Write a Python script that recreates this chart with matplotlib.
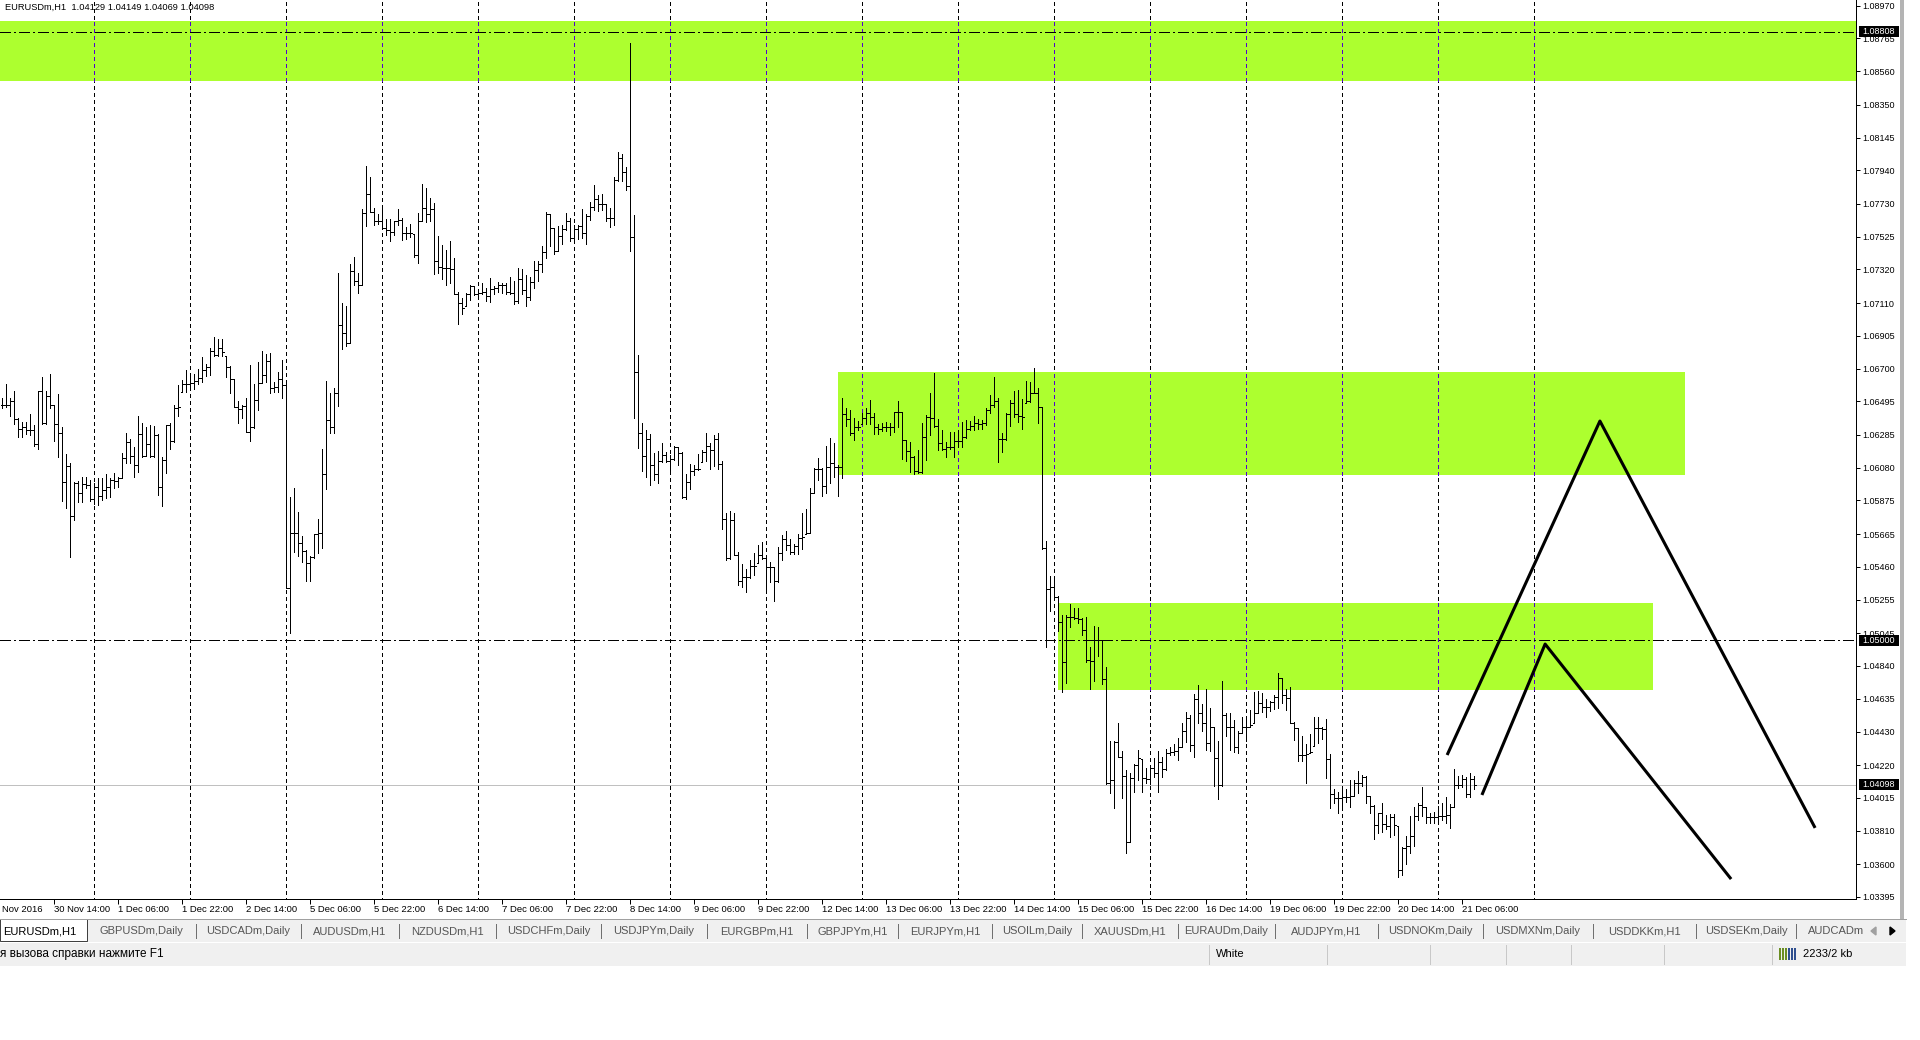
import numpy as np
import matplotlib
matplotlib.use("Agg")
import matplotlib.pyplot as plt
from matplotlib.collections import LineCollection
from matplotlib.patches import Rectangle
import matplotlib.transforms as mtransforms

plt.rcParams['font.family'] = ['Liberation Sans', 'DejaVu Sans']
plt.rcParams['lines.scale_dashes'] = False

# ---------------- data (EURUSDm, H1 bars, prices in points = 1e-5) ----------------
symbol = "EURUSDm,H1"
last_ohlc = [1.04129, 1.04149, 1.04069, 1.04098]

high_pts = [
    106514, 106601, 106514, 106562, 106389, 106368, 106368, 106414, 106345, 106562,
    106645, 106562, 106666, 106472, 106541, 106336, 106165, 106107, 105992, 105999,
    106020, 106024, 106003, 105982, 106013, 106013, 106040, 106013, 106045, 106024,
    106170, 106295, 106257, 106211, 106403, 106357, 106336, 106345, 106341, 106291,
    106145, 106347, 106357, 106472, 106597, 106628, 106691, 106649, 106666, 106695,
    106770, 106726, 106831, 106895, 106883, 106883, 106779, 106716, 106633, 106499,
    106472, 106514, 106722, 106603, 106739, 106810, 106791, 106799, 106618, 106680,
    106753, 106607, 105899, 105951, 105805, 105653, 105565, 105527, 105665, 105757,
    106195, 106624, 106549, 106576, 107300, 107112, 107091, 107354, 107396, 107300,
    107696, 107967,
    107896, 107705, 107669, 107698, 107635, 107633, 107621, 107698, 107645, 107585,
    107602, 107544, 107674, 107855, 107831, 107765, 107736, 107530, 107472, 107441,
    107496, 107389, 107178, 107142, 107171, 107226, 107219, 107197, 107233, 107207,
    107267, 107219, 107243, 107238, 107238, 107274, 107250, 107329, 107322, 107286,
    107274, 107375, 107370, 107465, 107681, 107669, 107578, 107592, 107597, 107674,
    107640, 107597, 107597, 107698, 107664, 107741, 107848, 107789, 107794, 107729,
    107705, 107896, 108052, 108040, 107961, 108734, 107662, 106788, 106359, 106316,
    106292, 106173, 106185, 106237, 106178, 106161, 106214, 106209, 106178, 106041,
    106101, 106094, 106166, 106190, 106299, 106237, 106285, 106299, 106125, 105797,
    105807, 105797, 105550,
    105477, 105444, 105502, 105544, 105596, 105613, 105519, 105488, 105461, 105582,
    105659, 105684, 105632, 105603, 105665, 105794, 105819, 105951, 106076, 106143,
    106080, 106216, 106263, 106236, 106097, 106518, 106451, 106441, 106389, 106374,
    106424, 106455, 106503, 106424, 106353, 106361, 106368, 106361, 106430, 106497,
    106430, 106253, 106243, 106153, 106190, 106361, 106409, 106549, 106674, 106384,
    106316, 106243, 106305, 106301, 106316, 106368, 106378, 106374, 106403, 106382,
    106378, 106451, 106535, 106645, 106514, 106295, 106424, 106503, 106562, 106566,
    106507, 106622, 106614, 106701, 106576, 106462, 105621, 105402, 105404, 105277,
    105158, 105158, 105227, 105200, 105200, 105138, 105144, 104960, 105090, 105085,
    105002, 104831,
    104371, 104371, 104485, 104310, 104189, 104168, 104227, 104314, 104256, 104200,
    104221, 104262, 104308, 104273, 104319, 104335, 104352, 104387, 104485, 104554,
    104533, 104665, 104721, 104602, 104696, 104579, 104460, 104373, 104746, 104544,
    104548, 104502, 104435, 104523, 104506, 104565, 104675, 104686, 104673, 104631,
    104621, 104658, 104794, 104763, 104694, 104711, 104492, 104450, 104402, 104352,
    104415, 104519, 104523, 104460, 104506, 104287, 104068, 104050, 104064, 104068,
    104127, 104127, 104183, 104158, 104152, 104027, 103970, 103922, 103981, 103908,
    103914, 103914, 103839, 103706, 103777, 103902, 103960, 103981, 104081, 103960,
    103922, 103929, 103964, 103985, 104023, 103975, 104194, 104152, 104158, 104143,
    104168, 104149,
]

low_pts = [
    106451, 106457, 106405, 106353, 106274, 106270, 106288, 106284, 106216, 106195,
    106351, 106351, 106451, 106249, 106145, 105874, 105826, 105523, 105753, 105867,
    105867, 105951, 105874, 105853, 105846, 105878, 105888, 105894, 105955, 105957,
    106013, 106107, 106107, 106024, 106055, 106149, 106153, 106149, 106149, 105909,
    105840, 106049, 106197, 106243, 106405, 106555, 106555, 106566, 106570, 106601,
    106618, 106655, 106660, 106781, 106781, 106781, 106649, 106545, 106462, 106361,
    106393, 106305, 106249, 106326, 106441, 106607, 106618, 106545, 106555, 106555,
    106514, 105325, 105048, 105555, 105527, 105492, 105373, 105373, 105513, 105544,
    105575, 105944, 106299, 106299, 106466, 106820, 106841, 106862, 107223, 107175,
    107223, 107592,
    107681, 107597, 107602, 107573, 107537, 107501, 107537, 107597, 107506, 107513,
    107525, 107401, 107363, 107621, 107614, 107621, 107291, 107298, 107262, 107226,
    107233, 107166, 106982, 107041, 107089, 107130, 107161, 107161, 107166, 107125,
    107118, 107166, 107178, 107171, 107166, 107166, 107106, 107113, 107166, 107094,
    107130, 107202, 107250, 107305, 107394, 107465, 107418, 107434, 107482, 107568,
    107496, 107496, 107513, 107520, 107482, 107628, 107693, 107686, 107693, 107626,
    107585, 107597, 107872, 107872, 107818, 107434, 106393, 106202, 106058, 106022,
    105969, 106005, 105986, 106118, 106113, 106065, 106130, 106094, 105892, 105885,
    105945, 106036, 106065, 106113, 106125, 106070, 106089, 106070, 105694, 105502,
    105506, 105533, 105347,
    105336, 105304, 105392, 105409, 105482, 105507, 105294, 105367, 105248, 105367,
    105502, 105565, 105540, 105540, 105540, 105571, 105665, 105673, 105919, 106003,
    105903, 105924, 105982, 106024, 105905, 106013, 106343, 106284, 106253, 106316,
    106353, 106353, 106353, 106291, 106291, 106311, 106311, 106284, 106305, 106332,
    106134, 106124, 106055, 106038, 106049, 106049, 106128, 106284, 106336, 106190,
    106190, 106145, 106197, 106145, 106211, 106211, 106263, 106316, 106316, 106322,
    106322, 106347, 106420, 106462, 106118, 106180, 106253, 106341, 106399, 106368,
    106322, 106482, 106493, 106545, 106361, 105571, 104960, 105183, 105273, 105060,
    104679, 104735, 105085, 105131, 105106, 105033, 104867, 104696, 104748, 104902,
    104725, 104101,
    104048, 103950, 104273, 104012, 103668, 103741, 104054, 104127, 104054, 104106,
    104102, 104143, 104054, 104148, 104189, 104283, 104283, 104252, 104331, 104367,
    104310, 104273, 104481, 104433, 104314, 104310, 104091, 104006, 104089, 104402,
    104314, 104300, 104294, 104419, 104373, 104460, 104485, 104544, 104554, 104523,
    104560, 104569, 104575, 104606, 104565, 104485, 104377, 104248, 104248, 104110,
    104294, 104339, 104356, 104381, 104137, 103950, 103985, 103922, 103964, 103991,
    103960, 104027, 104043, 104089, 103981, 103922, 103756, 103797, 103804, 103818,
    103768, 103783, 103522, 103533, 103601, 103668, 103714, 103877, 103902, 103860,
    103860, 103856, 103872, 103877, 103856, 103824, 103960, 104075, 104085, 104023,
    104023, 104069,
]

close_pts = [
    106472, 106472, 106499, 106382, 106320, 106332, 106316, 106316, 106228, 106562,
    106361, 106528, 106470, 106353, 106295, 105992, 106090, 105778, 105986, 105919,
    105978, 105972, 105882, 105957, 105903, 105940, 105957, 106003, 105999, 106013,
    106138, 106238, 106153, 106097, 106288, 106153, 106226, 106153, 106284, 105961,
    106128, 106345, 106249, 106455, 106457, 106601, 106601, 106607, 106624, 106639,
    106691, 106712, 106810, 106783, 106831, 106803, 106708, 106633, 106462, 106445,
    106468, 106305, 106332, 106503, 106607, 106660, 106747, 106576, 106582, 106633,
    106597, 105325, 105673, 105673, 105607, 105559, 105486, 105519, 105663, 105673,
    106040, 106378, 106332, 106545, 106972, 106920, 106862, 107312, 107250, 107223,
    107671, 107792,
    107681, 107626, 107626, 107580, 107568, 107554, 107621, 107628, 107549, 107549,
    107549, 107411, 107626, 107705, 107664, 107698, 107370, 107334, 107329, 107329,
    107322, 107166, 107113, 107082, 107166, 107219, 107166, 107171, 107178, 107154,
    107195, 107202, 107226, 107226, 107178, 107171, 107125, 107262, 107190, 107147,
    107243, 107315, 107353, 107429, 107669, 107578, 107434, 107532, 107573, 107621,
    107520, 107573, 107592, 107549, 107657, 107712, 107758, 107729, 107729, 107640,
    107640, 107879, 108016, 107932, 107841, 107525, 106680, 106297, 106156, 106261,
    106094, 106041, 106125, 106161, 106125, 106132, 106209, 106173, 105897, 105993,
    106058, 106070, 106070, 106180, 106214, 106190, 106261, 106101, 105759, 105514,
    105754, 105533, 105371,
    105398, 105398, 105465, 105465, 105534, 105513, 105457, 105457, 105371, 105548,
    105632, 105596, 105550, 105590, 105638, 105644, 105673, 105924, 106070, 106070,
    105965, 106082, 106107, 106086, 106082, 106416, 106382, 106295, 106336, 106336,
    106389, 106420, 106395, 106332, 106322, 106332, 106332, 106332, 106426, 106426,
    106253, 106184, 106149, 106061, 106055, 106270, 106399, 106393, 106341, 106236,
    106197, 106211, 106211, 106247, 106249, 106274, 106320, 106341, 106357, 106353,
    106357, 106441, 106472, 106499, 106257, 106257, 106416, 106482, 106416, 106405,
    106399, 106497, 106549, 106549, 106462, 105575, 105319, 105331, 105273, 105117,
    104862, 105144, 105148, 105138, 105131, 105065, 104877, 104873, 105002, 105002,
    104756, 104110,
    104127, 104367, 104273, 104152, 103741, 104137, 104221, 104262, 104137, 104131,
    104200, 104168, 104241, 104194, 104298, 104304, 104310, 104335, 104435, 104513,
    104346, 104631, 104544, 104485, 104360, 104456, 104262, 104096, 104533, 104456,
    104456, 104335, 104423, 104460, 104460, 104471, 104548, 104606, 104585, 104585,
    104613, 104648, 104763, 104658, 104638, 104485, 104450, 104283, 104283, 104289,
    104300, 104454, 104450, 104444, 104256, 104039, 104012, 104012, 104018, 104023,
    104027, 104106, 104106, 104148, 104027, 103966, 103845, 103918, 103852, 103839,
    103897, 103845, 103564, 103699, 103714, 103777, 103902, 103970, 103956, 103897,
    103893, 103893, 103902, 103902, 103908, 103960, 104096, 104096, 104131, 104039,
    104131, 104098,
]

# price-axis labels
y_tick_values = [1.08970, 1.08765, 1.08560, 1.08350, 1.08145, 1.07940, 1.07730,
                 1.07525, 1.07320, 1.07110, 1.06905, 1.06700, 1.06495, 1.06285,
                 1.06080, 1.05875, 1.05665, 1.05460, 1.05255, 1.05045, 1.04840,
                 1.04635, 1.04430, 1.04220, 1.04015, 1.03810, 1.03600, 1.03395]

# time-axis labels (bar index -> label)
x_tick_bars = [13, 29, 45, 61, 77, 93, 109, 125, 141, 157, 173, 189, 205, 221,
               237, 253, 269, 285, 301, 317, 333, 349, 365]
x_tick_labels = ["30 Nov 14:00", "1 Dec 06:00", "1 Dec 22:00", "2 Dec 14:00",
                 "5 Dec 06:00", "5 Dec 22:00", "6 Dec 14:00", "7 Dec 06:00",
                 "7 Dec 22:00", "8 Dec 14:00", "9 Dec 06:00", "9 Dec 22:00",
                 "12 Dec 14:00", "13 Dec 06:00", "13 Dec 22:00", "14 Dec 14:00",
                 "15 Dec 06:00", "15 Dec 22:00", "16 Dec 14:00", "19 Dec 06:00",
                 "19 Dec 22:00", "20 Dec 14:00", "21 Dec 06:00"]
first_label = "Nov 2016"          # visible part of the leftmost date label

# zones (rectangles)
zone_start_bar = [-5.0, 208.8, 264.0]
zone_end_bar = [480.0, 420.7, 412.7]
zone_high = [1.08876, 1.06679, 1.05232]
zone_low = [1.08502, 1.06034, 1.04690]

# horizontal levels and bid
levels = [1.08808, 1.05000]
bid = 1.04098

# hand-drawn trend lines
trend1_bars = [361.2, 399.4, 453.2]
trend1_prices = [1.04283, 1.06372, 1.03827]
trend2_bars = [369.9, 385.7, 432.2]
trend2_prices = [1.04033, 1.04977, 1.03507]

# terminal tabs / status bar
tabs = ["EURUSDm,H1", "GBPUSDm,Daily", "USDCADm,Daily", "AUDUSDm,H1", "NZDUSDm,H1",
        "USDCHFm,Daily", "USDJPYm,Daily", "EURGBPm,H1", "GBPJPYm,H1", "EURJPYm,H1",
        "USOILm,Daily", "XAUUSDm,H1", "EURAUDm,Daily", "AUDJPYm,H1", "USDNOKm,Daily",
        "USDMXNm,Daily", "USDDKKm,H1", "USDSEKm,Daily", "AUDCADm"]
status_help = "я вызова справки нажмите F1"   # visible part of the status hint
status_profile = "White"
status_traffic = "2233/2 kb"

# ---------------- figure ----------------
W, H = 1920, 1040
PX = 0.72  # one pixel in points at 100 dpi
fig = plt.figure(figsize=(W / 100, H / 100), dpi=100)
fig.patch.set_facecolor('white')

# ui layer in pixel coordinates
ui = fig.add_axes([0, 0, 1, 1], zorder=0)
ui.set_xlim(0, W)
ui.set_ylim(H, 0)
ui.axis('off')

PANEL = '#F0F0F0'
ui.add_patch(Rectangle((1900, 0), 4, 919, color='#B4B4B4', lw=0))
# tab bar
ui.add_patch(Rectangle((0, 919), 1906, 23, color=PANEL, lw=0))
ui.plot([0, 1906], [919, 919], color='#A0A0A0', lw=PX)
sep_x = [196, 301, 399, 496, 601, 707, 807, 898, 992, 1082, 1178, 1275, 1378,
         1483, 1593, 1696, 1796]
tab_font = 8.0
ui.add_patch(Rectangle((0, 919), 87, 22, facecolor='white', edgecolor='#404040', lw=PX))
ui.text(3, 931, tabs[0], fontsize=tab_font, color='black', va='center', ha='left')
bounds = [87] + sep_x + [1870]
for i, name in enumerate(tabs[1:]):
    x0, x1 = bounds[i], bounds[i + 1]
    if i < len(tabs) - 2:
        ui.text((x0 + x1) / 2, 931, name, fontsize=tab_font, color='#555555',
                va='center', ha='center')
    else:
        ui.text(x0 + 12, 931, name, fontsize=tab_font, color='#555555',
                va='center', ha='left')
for sx in sep_x:
    ui.plot([sx, sx], [924, 938], color='#707070', lw=PX)
ui.add_patch(Rectangle((1866, 920), 40, 21, color=PANEL, lw=0))
ui.fill([1876, 1876, 1871], [927, 935, 931], color='#A0A0A0')
ui.fill([1890, 1890, 1895], [927, 935, 931], color='black')

# status bar
ui.add_patch(Rectangle((0, 943), 1906, 23, color=PANEL, lw=0))
ui.text(0, 954, status_help, fontsize=8.5, color='black', va='center', ha='left')
for sx in [1209, 1327, 1430, 1506, 1571, 1664, 1772]:
    ui.plot([sx, sx], [945, 964], color='#C8C8C8', lw=PX)
ui.text(1216, 954, status_profile, fontsize=tab_font, color='black', va='center', ha='left')
for j, c in enumerate(['#6B8E23', '#6B8E23', '#6B8E23', '#2F4F8F', '#2F4F8F', '#2F4F8F']):
    ui.add_patch(Rectangle((1779 + j * 3, 948), 2, 12, color=c, lw=0))
ui.text(1803, 954, status_traffic, fontsize=tab_font, color='black', va='center', ha='left')

# ---------------- chart axes ----------------
CH_R, CH_B = 1856, 899
ax = fig.add_axes([0, 1 - CH_B / H, CH_R / W, CH_B / H], zorder=1)
ax.set_facecolor('white')
ax.set_xlim(-0.583, 463.42)
ax.set_ylim(1.033823, 1.090057)

highs = np.array(high_pts) / 1e5
lows = np.array(low_pts) / 1e5
closes = np.array(close_pts) / 1e5
n = min(len(highs), len(lows), len(closes))
highs, lows, closes = highs[:n], lows[:n], closes[:n]
opens = np.clip(np.r_[closes[0], closes[:-1]], lows, highs)
kk = np.arange(n)

# vertical grid (every 24 bars, up to just past the last bar)
grid_bars = np.arange(23, 390, 24)
for g in grid_bars:
    ln, = ax.plot([g, g], [1.0, 1.1], color='black', lw=PX, antialiased=False, zorder=0.5)
    ln.set_dashes((2.16, 2.16))

# zones
XOR_GRID = '#5200D0'
for s, e, hi, lo in zip(zone_start_bar, zone_end_bar, zone_high, zone_low):
    ax.add_patch(Rectangle((s, lo), e - s, hi - lo, facecolor='#ADFF2F',
                           edgecolor='none', zorder=1))
    for g in grid_bars:
        if s <= g <= e:
            ln, = ax.plot([g, g], [lo, hi], color=XOR_GRID, lw=PX,
                          antialiased=False, zorder=1.2)
            ln.set_dashes((2.16, 2.16))

# bid line
ax.axhline(bid, color='#C0C0C0', lw=PX, antialiased=False, zorder=1.5)
# horizontal levels
for lv in levels:
    ln = ax.axhline(lv, color='black', lw=PX, antialiased=False, zorder=2)
    ln.set_dashes((7.2, 2.16, 1.44, 2.16))

# OHLC bars
vert = np.stack([np.c_[kk, lows], np.c_[kk, highs]], axis=1)
otick = np.stack([np.c_[kk - 0.4, opens], np.c_[kk, opens]], axis=1)
ctick = np.stack([np.c_[kk, closes], np.c_[kk + 0.4, closes]], axis=1)
ax.add_collection(LineCollection(np.concatenate([vert, otick, ctick]), colors='black',
                                 linewidths=PX, antialiaseds=False, zorder=3))

# trend lines
ax.plot(trend1_bars, trend1_prices, color='black', lw=2.2, zorder=4, solid_capstyle='butt')
ax.plot(trend2_bars, trend2_prices, color='black', lw=2.2, zorder=4, solid_capstyle='butt')

# axes styling
for sp in ['top', 'left']:
    ax.spines[sp].set_visible(False)
ax.spines['right'].set_linewidth(PX)
ax.spines['bottom'].set_linewidth(PX)
ax.yaxis.tick_right()
ax.set_yticks(y_tick_values)
ax.set_yticklabels([f"{v:.5f}" for v in y_tick_values])
ax.tick_params(axis='y', direction='out', length=3, width=PX, pad=1.5,
               labelsize=6.5, colors='black')
ax.set_xticks(x_tick_bars)
ax.set_xticklabels(x_tick_labels)
ax.tick_params(axis='x', direction='out', length=3.6, width=PX, pad=0.8,
               labelsize=6.8, colors='black')
for lbl in ax.get_xticklabels():
    lbl.set_ha('left')

# leftmost (partly scrolled-off) date label
ui.text(2.5, 909, first_label, fontsize=6.8, va='center', ha='left')

# price marker boxes on the axis
tr_y = mtransforms.blended_transform_factory(ax.transAxes, ax.transData)
box_h = 10.5 / 15987
for p in levels + [bid]:
    ax.add_patch(Rectangle((1859 / CH_R, p - box_h / 2), 40 / CH_R, box_h,
                           transform=tr_y, facecolor='black', edgecolor='none',
                           clip_on=False, zorder=10))
    ax.text(1879 / CH_R, p, f"{p:.5f}", transform=tr_y, color='white', fontsize=6.5,
            ha='center', va='center', clip_on=False, zorder=11)

# header
fig.text(5 / W, 1 - 7 / H, f"{symbol}  " + " ".join(f"{v:.5f}" for v in last_ohlc),
         fontsize=6.7, va='center', ha='left', zorder=5)

fig.savefig("out.png", dpi=100, facecolor='white')
